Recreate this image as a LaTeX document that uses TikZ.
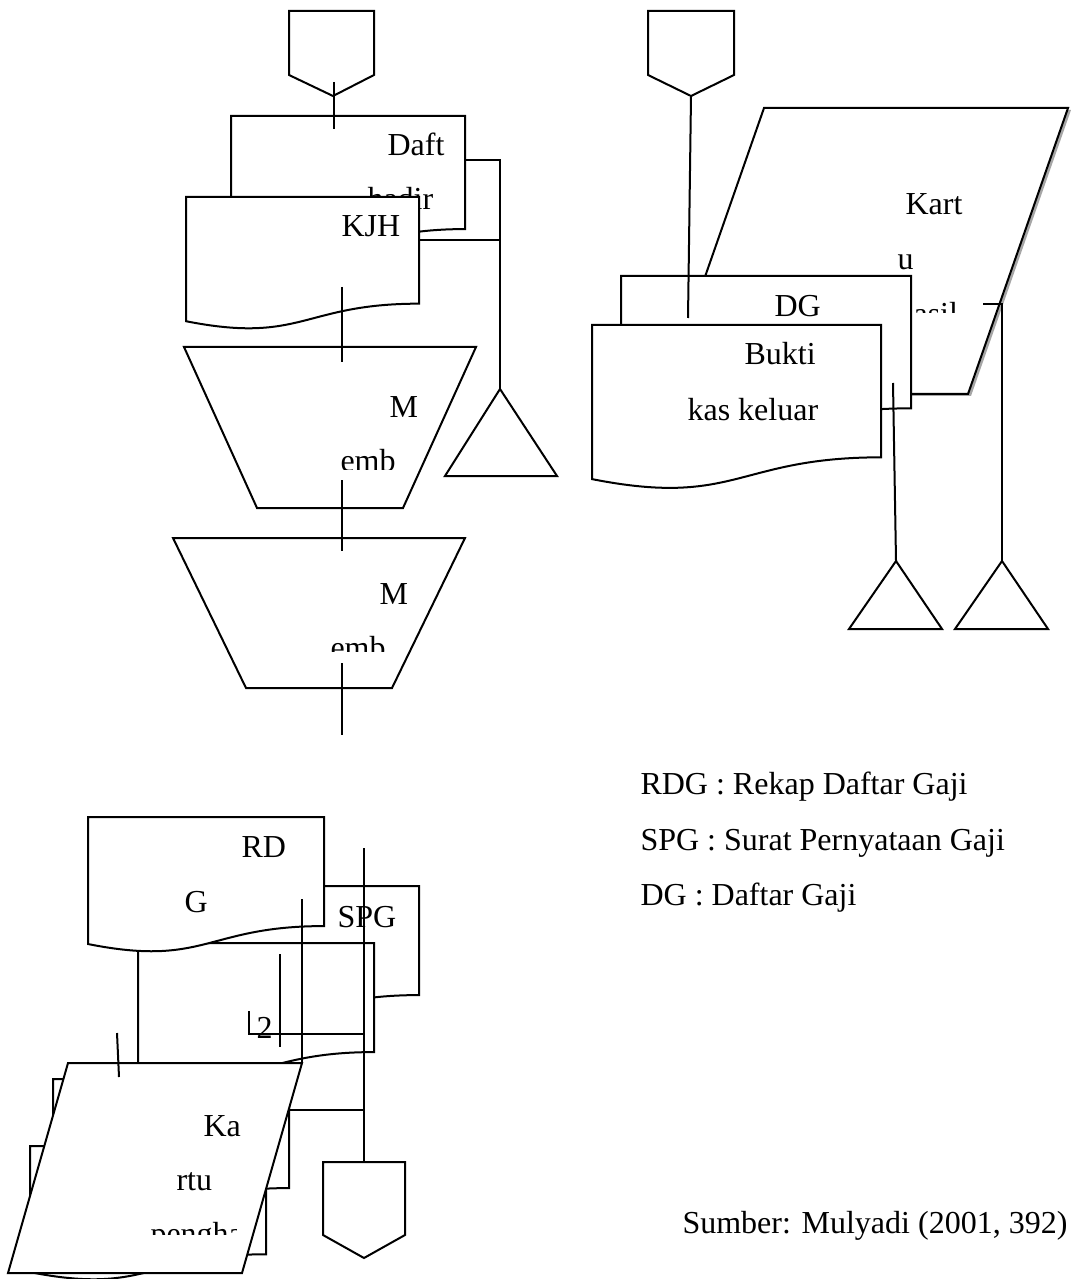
\documentclass[tikz,border=0pt]{standalone}
\usepackage{fontspec}
\setmainfont{Liberation Serif}
\begin{document}
\begin{tikzpicture}[x=0.375pt,y=-0.375pt,
  shp/.style={draw=black,fill=white,line width=0.75pt,line join=miter},
  ln/.style={draw=black,line width=0.75pt},
  txt/.style={inner sep=0pt,anchor=base west,font=\fontsize{12}{14}\selectfont}]
\newcommand\mydoc[4]{\draw[shp] (#1,#2) -- ({#1+#3},#2) -- ({#1+#3},{#2+0.802*#4}) .. controls ({#1+0.5*#3},{#2+0.802*#4}) and ({#1+0.5*#3},{#2+1.107*#4}) .. (#1,{#2+0.934*#4}) -- cycle;}
\useasboundingbox (0,0) rectangle (1070,1279);
\fill[white] (0,0) rectangle (1070,1279);

% ---------------- top left ----------------
\draw[shp] (289,11) -- (374,11) -- (374,75) -- (333,96) -- (289,75) -- cycle;
\coordinate (c1) at (333,96);
\mydoc{231}{116}{234}{141}
\node[txt] (tdaft) at (387,156) {Daft};
\node[txt] (thadir) at (367,210) {hadir};
\mydoc{186}{197}{233}{133}
\node[txt] (tkjh) at (341,237) {KJH};
\draw[shp] (184,347) -- (476,347) -- (403,508) -- (257,508) -- cycle;
\node[txt] (tm1) at (389,417) {M};
\begin{scope}
\clip (300,430) rectangle (420,469);
\node[txt] (te1) at (340,471) {emb};
\end{scope}
\draw[shp] (173,538) -- (465,538) -- (392,688) -- (246,688) -- cycle;
\node[txt] (tm2) at (379,604) {M};
\begin{scope}
\clip (300,620) rectangle (420,651);
\node[txt] (te2) at (330,658) {emb};
\end{scope}
\draw[shp] (500,389) -- (557,476) -- (445,476) -- cycle;
\coordinate (tri1) at (500,389);
\draw[ln] (334,82) -- (334,129);
\draw[ln] (342,287) -- (342,362);
\draw[ln] (342,480) -- (342,551);
\draw[ln] (342,663) -- (342,735);
\draw[ln] (465,160) -- (500,160) -- (tri1);
\draw[ln] (419,240) -- (500,240);

% ---------------- top right ----------------
\fill[gray!70] (767,110) -- (1071,110) -- (971,396) -- (667,396) -- cycle;
\draw[shp] (764,108) -- (1068,108) -- (968,394) -- (664,394) -- cycle;
\node[txt] (tkart) at (905,215) {Kart};
\node[txt] (tu) at (897,270) {u};
\begin{scope}
\clip (880,295) rectangle (1000,313);
\node[txt] (thasil) at (897,325) {hasil};
\end{scope}
\mydoc{621}{276}{290}{165}
\node[txt] (tdg) at (774,317) {DG};
\mydoc{592}{325}{289}{165}
\node[txt] (tbukti) at (744,365) {Bukti};
\node[txt] (tkas) at (687,420) {kas keluar};
\draw[shp] (648,11) -- (734,11) -- (734,75) -- (691,96) -- (648,75) -- cycle;
\coordinate (c2) at (691,96);
\draw[shp] (896,561) -- (942,629) -- (849,629) -- cycle;
\draw[shp] (1002,561) -- (1048,629) -- (955,629) -- cycle;
\coordinate (tri2) at (896,561);
\coordinate (tri3) at (1002,561);
\draw[ln] (c2) -- (688,318);
\draw[ln] (893,383) -- (tri2);
\draw[ln] (983,304) -- (1002,304) -- (tri3);

% ---------------- bottom left ----------------
\mydoc{183}{886}{236}{136}
\node[txt] (tspg) at (337,927) {SPG};
\mydoc{138}{943}{236}{136}
\node[txt] (t2) at (256,1038) {2};
\mydoc{88}{817}{236}{136}
\node[txt] (trd) at (241,857) {RD};
\node[txt] (tg) at (184,912) {G};
\mydoc{30}{1146}{236}{135}
\mydoc{53}{1079}{236}{136}
\draw[shp] (68,1063) -- (302,1063) -- (242,1273) -- (8,1273) -- cycle;
\node[txt] (tka) at (203,1136) {Ka};
\node[txt] (trtu) at (176,1190) {rtu};
\begin{scope}
\clip (140,1200) rectangle (236,1234);
\node[txt] (tpeng) at (150,1244) {penghasilan};
\end{scope}
\draw[shp] (323,1162) -- (405,1162) -- (405,1235) -- (364,1258) -- (323,1235) -- cycle;
\coordinate (c3) at (364,1162);
\draw[ln] (364,848) -- (c3);
\draw[ln] (302,899) -- (302,1063);
\draw[ln] (280,954) -- (280,1047);
\draw[ln] (249,1011) -- (249,1034) -- (364,1034);
\draw[ln] (289,1110) -- (364,1110);
\draw[ln] (117,1033) -- (119,1077);

% ---------------- legend ----------------
\node[txt] (l1) at (640,794) {RDG : Rekap Daftar Gaji};
\node[txt] (l2) at (640,850) {SPG : Surat Pernyataan Gaji};
\node[txt] (l3) at (640,905) {DG : Daftar Gaji};
\node[txt] (src) at (682,1233) {Sumber: Mulyadi (2001, 392)};
\end{tikzpicture}
\end{document}
